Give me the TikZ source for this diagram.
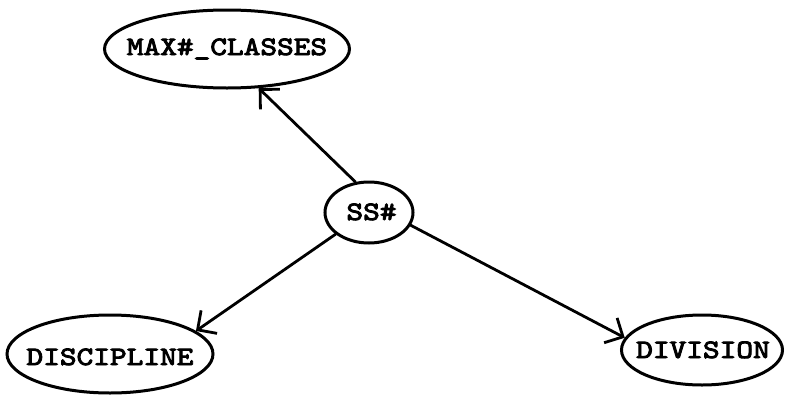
\documentclass[tikz,border=0pt]{standalone}
\usepackage{fontspec}
\newfontfamily\typew{lmmono10-regular.otf}[FakeBold=3.5,FakeStretch=1.2]
\usetikzlibrary{shapes.geometric,arrows.meta}
\begin{document}
\begin{tikzpicture}[x=1pt,y=-1pt,
  ent/.style={ellipse,draw,line width=3pt,inner sep=0pt},
  lab/.style={anchor=base,font=\typew\fontsize{26.5}{30}\selectfont,inner sep=0pt},
  rel/.style={line width=2.8pt,line cap=round,-{Straight Barb[length=14pt,width=28pt]}}]
\useasboundingbox (0,0) rectangle (785,394);
\node[ent,minimum width=245pt,minimum height=78pt] (max) at (227,49) {};
\node[ent,minimum width=88pt,minimum height=61pt] (ss) at (369,212.5) {};
\node[ent,minimum width=206pt,minimum height=78pt] (disc) at (110,354) {};
\node[ent,minimum width=161pt,minimum height=70pt] (div) at (702,350) {};
\node[lab] (maxt) at (227,55) {MAX\#\_CLASSES};
\node[lab] (sst) at (371.5,220) {SS\#};
\node[lab] (disct) at (110,365) {DISCIPLINE};
\node[lab] (divt) at (703,358) {DIVISION};
\draw[rel] (ss.114) -- (max.309);
\draw[rel] (ss.213) -- (disc.15);
\draw[rel] (ss.343) -- (div.171);
\end{tikzpicture}
\end{document}
